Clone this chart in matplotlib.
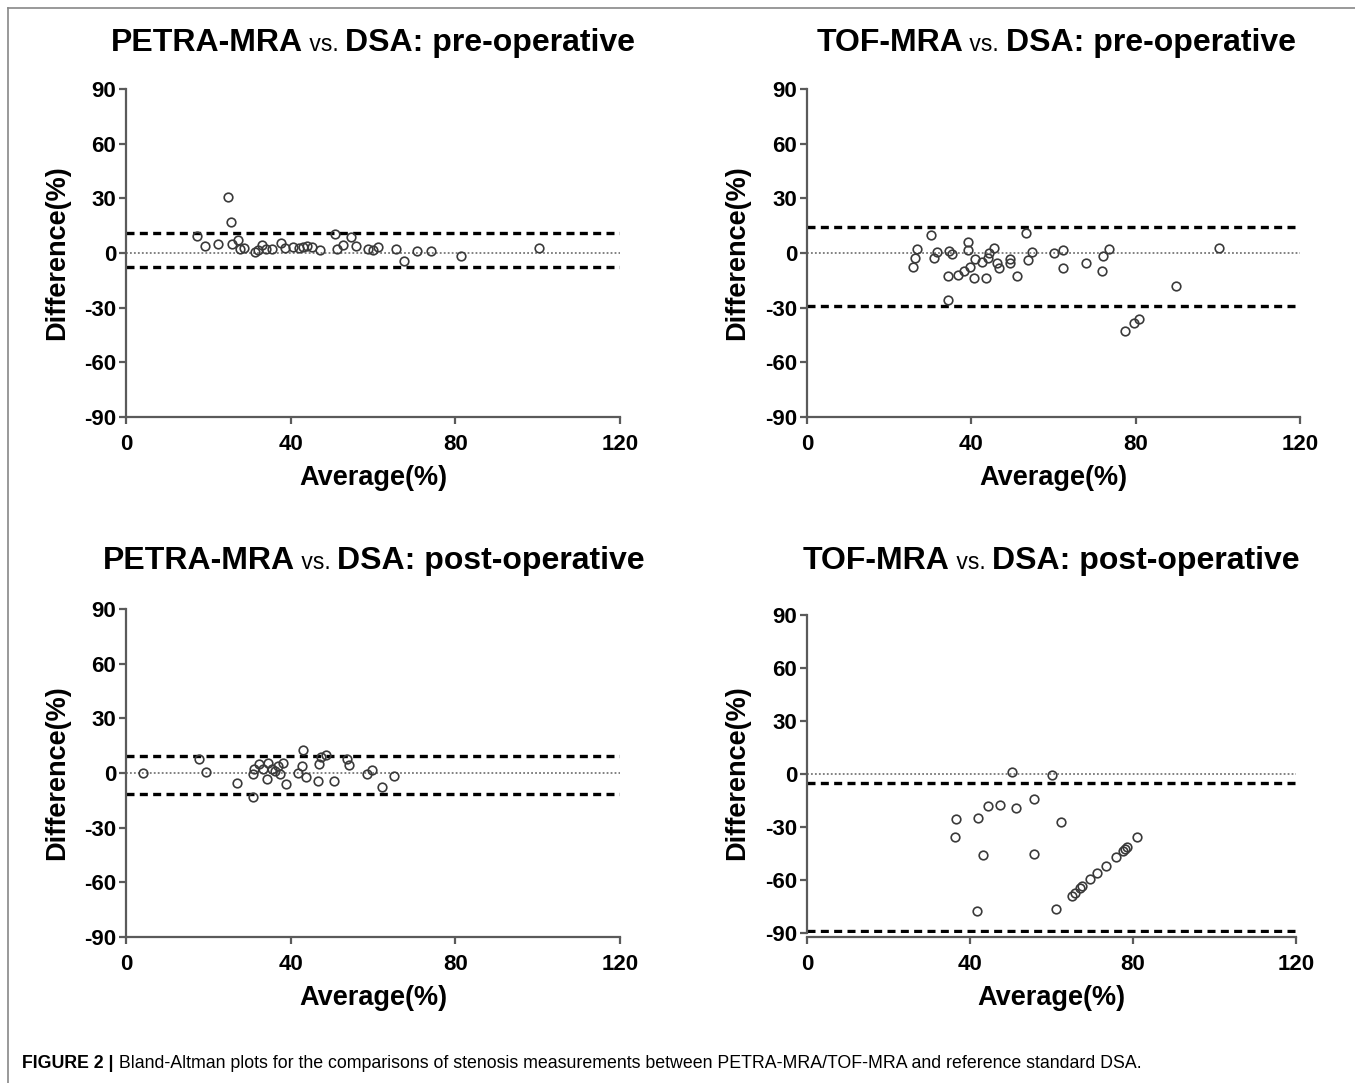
import matplotlib
matplotlib.use("Agg")
import matplotlib.pyplot as plt
from matplotlib.lines import Line2D
import numpy as np

W, H = 1355, 1083

# ---------------- data ----------------
titles = ["PETRA-MRA", "TOF-MRA", "PETRA-MRA", "TOF-MRA"]
title_tails = ["DSA: pre-operative", "DSA: pre-operative",
               "DSA: post-operative", "DSA: post-operative"]

petra_pre_avg = [17.3, 19.3, 22.4, 24.7, 25.5, 25.7, 27.3, 27.7, 28.7, 31.3, 33.0, 32.1,
                 33.9, 35.5, 37.6, 38.6, 40.6, 42.1, 42.9, 43.9, 45.3, 47.1, 50.8, 51.2,
                 52.6, 54.7, 55.9, 58.9, 60.1, 61.3, 65.6, 67.5, 70.8, 74.2, 81.3, 100.3]
petra_pre_diff = [9.5, 3.8, 4.8, 30.7, 17.0, 4.8, 7.1, 2.0, 2.6, 0.5, 4.4, 1.7,
                  2.0, 2.0, 5.3, 2.6, 3.1, 2.6, 3.1, 3.8, 3.1, 1.7, 10.4, 2.0,
                  4.4, 8.6, 3.8, 2.4, 1.7, 3.4, 2.4, -4.4, 0.9, 0.9, -1.6, 2.6]
petra_pre_limits = [10.8, 1.5, -7.9]

tof_pre_avg = [25.9, 26.3, 26.7, 30.3, 31.0, 31.6, 34.4, 34.4, 34.5, 35.4, 36.8, 38.1,
               39.1, 39.2, 39.7, 40.7, 40.9, 42.5, 43.6, 44.1, 44.4, 45.6, 46.2, 46.8,
               49.3, 49.4, 51.0, 53.3, 53.9, 54.8, 60.1, 62.2, 62.4, 67.9, 71.7, 72.0,
               73.6, 89.7, 100.3, 77.4, 79.7, 80.7]
tof_pre_diff = [-7.5, -2.9, 2.4, 10.0, -2.9, 0.7, -12.6, -25.8, 0.9, -0.5, -12.1, -9.7,
                6.2, 1.6, -7.9, -13.5, -3.3, -5.1, -13.5, -2.9, -0.2, 2.6, -5.7, -8.0,
                -5.7, -3.3, -12.6, 11.2, -3.8, 0.4, -0.2, -8.4, 1.6, -5.7, -9.7, -1.6,
                2.4, -18.1, 2.9, -42.6, -38.2, -36.4]
tof_pre_limits = [14.4, -7.3, -28.9]

petra_post_avg = [4.2, 17.7, 19.4, 26.9, 30.8, 30.9, 31.1, 32.4, 33.2, 34.2, 34.6, 35.4,
                  36.2, 37.0, 37.3, 38.2, 38.8, 41.9, 42.7, 43.1, 43.7, 46.7, 47.0, 47.4,
                  48.6, 50.6, 53.8, 54.2, 58.5, 59.7, 62.3, 65.1]
petra_post_diff = [0.0, 7.5, 0.4, -5.3, -0.4, -13.0, 2.0, 4.8, 2.0, -3.5, 5.3, 2.0,
                   1.3, 3.8, -0.7, 5.3, -6.2, 0.2, 3.8, 12.6, -2.2, -4.4, 4.8, 8.8,
                   9.9, -4.4, 7.5, 4.4, -0.7, 1.8, -7.5, -1.6]
petra_post_limits = [9.3, -1.2, -11.7]

tof_post_avg = [50.2, 60.2, 55.8, 44.3, 47.4, 51.4, 36.5, 42.0, 62.3, 36.3, 43.3, 55.8,
                41.8, 61.1, 81.1, 65.0, 65.8, 67.0, 67.6, 69.4, 71.2, 73.3, 75.8, 77.5,
                78.0, 78.5]
tof_post_diff = [1.3, -0.6, -14.2, -18.1, -17.6, -19.1, -25.7, -25.1, -27.4, -35.5, -45.9, -45.0,
                 -77.5, -76.5, -35.5, -69.2, -67.6, -64.8, -63.5, -59.7, -56.3, -52.2, -47.2, -43.5,
                 -42.5, -41.6]
tof_post_limits = [-4.9, -47.0, -89.0]

x_ticks = [0, 40, 80, 120]
y_ticks = [-90, -60, -30, 0, 30, 60, 90]
x_label = "Average(%)"
y_label = "Difference(%)"
caption_bold = "FIGURE 2 |"
caption_rest = (" Bland-Altman plots for the comparisons of stenosis measurements between "
                "PETRA-MRA/TOF-MRA and reference standard DSA.")

panels = [
    (petra_pre_avg, petra_pre_diff, petra_pre_limits),
    (tof_pre_avg, tof_pre_diff, tof_pre_limits),
    (petra_post_avg, petra_post_diff, petra_post_limits),
    (tof_post_avg, tof_post_diff, tof_post_limits),
]

# ---------------- layout (pixels) ----------------
# (left, right, top(90), bottom(-90), bottom-spine offset px)
boxes = [
    (126, 620, 89, 417, 0),
    (807, 1300, 89, 417, 0),
    (126, 620, 609, 937, 0),
    (807, 1296, 615, 933, 4),
]
title_centers = [(373, 40), (1056, 40), (374, 558), (1051, 558)]
ylab_pos = [(57, 253), (737, 253), (57, 773), (737, 773)]
xlab_pos = [(373, 478), (1053, 478), (373, 998), (1051, 998)]

FONT = ["Liberation Sans", "DejaVu Sans"]
plt.rcParams["font.family"] = FONT
plt.rcParams["axes.unicode_minus"] = False
spine_col = "#5a5a5a"

fig = plt.figure(figsize=(W / 100, H / 100), dpi=100)


def fx(x):
    return x / W


def fy(y):
    return 1 - y / H


axes = []
for (l, r, t, b, off), (avg, diff, lim) in zip(boxes, panels):
    ax = fig.add_axes([fx(l), fy(b), (r - l) / W, (b - t) / H])
    ax.set_xlim(0, 120)
    ax.set_ylim(-90, 90)
    for s in ["top", "right"]:
        ax.spines[s].set_visible(False)
    for s in ["left", "bottom"]:
        ax.spines[s].set_color(spine_col)
        ax.spines[s].set_linewidth(1.6)
    if off:
        ax.spines["bottom"].set_position(("outward", off * 0.72))
    ax.set_xticks(x_ticks)
    ax.set_yticks(y_ticks)
    ax.tick_params(axis="both", direction="out", length=5, width=1.6, color=spine_col,
                   labelsize=16)
    ax.tick_params(axis="y", pad=2)
    ax.tick_params(axis="x", pad=7)
    for lab in ax.get_xticklabels() + ax.get_yticklabels():
        lab.set_fontweight("bold")
    ax.axhline(0, color="#777777", lw=1.3, ls=(0, (1, 1.2)), zorder=1)
    ax.axhline(lim[0], color="black", lw=2.4, ls=(0, (2.4, 1.6)), zorder=2)
    ax.axhline(lim[2], color="black", lw=2.4, ls=(0, (2.4, 1.6)), zorder=2)
    ax.plot(avg, diff, ls="none", marker="o", ms=6.2, mfc="none", mec="#3a3a3a",
            mew=1.2, zorder=3, clip_on=False)
    ax.patch.set_alpha(0)
    axes.append(ax)

# axis labels
for (x, y) in ylab_pos:
    fig.text(fx(x), fy(y), y_label, rotation=90, ha="center", va="center",
             fontsize=19.5, fontweight="bold")
for (x, y) in xlab_pos:
    fig.text(fx(x), fy(y), x_label, ha="center", va="center",
             fontsize=19.5, fontweight="bold")

# titles: bold name + normal small "vs." + bold tail
title_parts = []
for name, tail, (cx, cy) in zip(titles, title_tails, title_centers):
    t1 = fig.text(0, fy(cy), name, ha="left", va="baseline", fontsize=23, fontweight="bold")
    t2 = fig.text(0, fy(cy), " vs. ", ha="left", va="baseline", fontsize=16.5)
    t3 = fig.text(0, fy(cy), tail, ha="left", va="baseline", fontsize=23, fontweight="bold")
    title_parts.append(((t1, t2, t3), cx, cy))

# caption
cap_y = 1068
c1 = fig.text(fx(22), fy(cap_y), caption_bold, ha="left", va="baseline", fontsize=12.8,
              fontweight="bold")
c2 = fig.text(0, fy(cap_y), caption_rest, ha="left", va="baseline", fontsize=12.8)

# frame lines (left and top)
fig.add_artist(Line2D([fx(8), fx(8)], [fy(8), fy(1083)], color="#888888", lw=1.2))
fig.add_artist(Line2D([fx(8), fx(1355)], [fy(8), fy(8)], color="#888888", lw=1.2))

fig.canvas.draw()
rend = fig.canvas.get_renderer()
for (t1, t2, t3), cx, cy in title_parts:
    w1 = t1.get_window_extent(rend).width
    w2 = t2.get_window_extent(rend).width
    w3 = t3.get_window_extent(rend).width
    total = w1 + w2 + w3
    x0 = cx - total / 2
    base = fy(cy + 11)
    t1.set_position((fx(x0), base))
    t2.set_position((fx(x0 + w1), base))
    t3.set_position((fx(x0 + w1 + w2), base))

wc1 = c1.get_window_extent(rend).width
c2.set_position((fx(22 + wc1), fy(cap_y)))

fig.savefig("out.png", dpi=100)
